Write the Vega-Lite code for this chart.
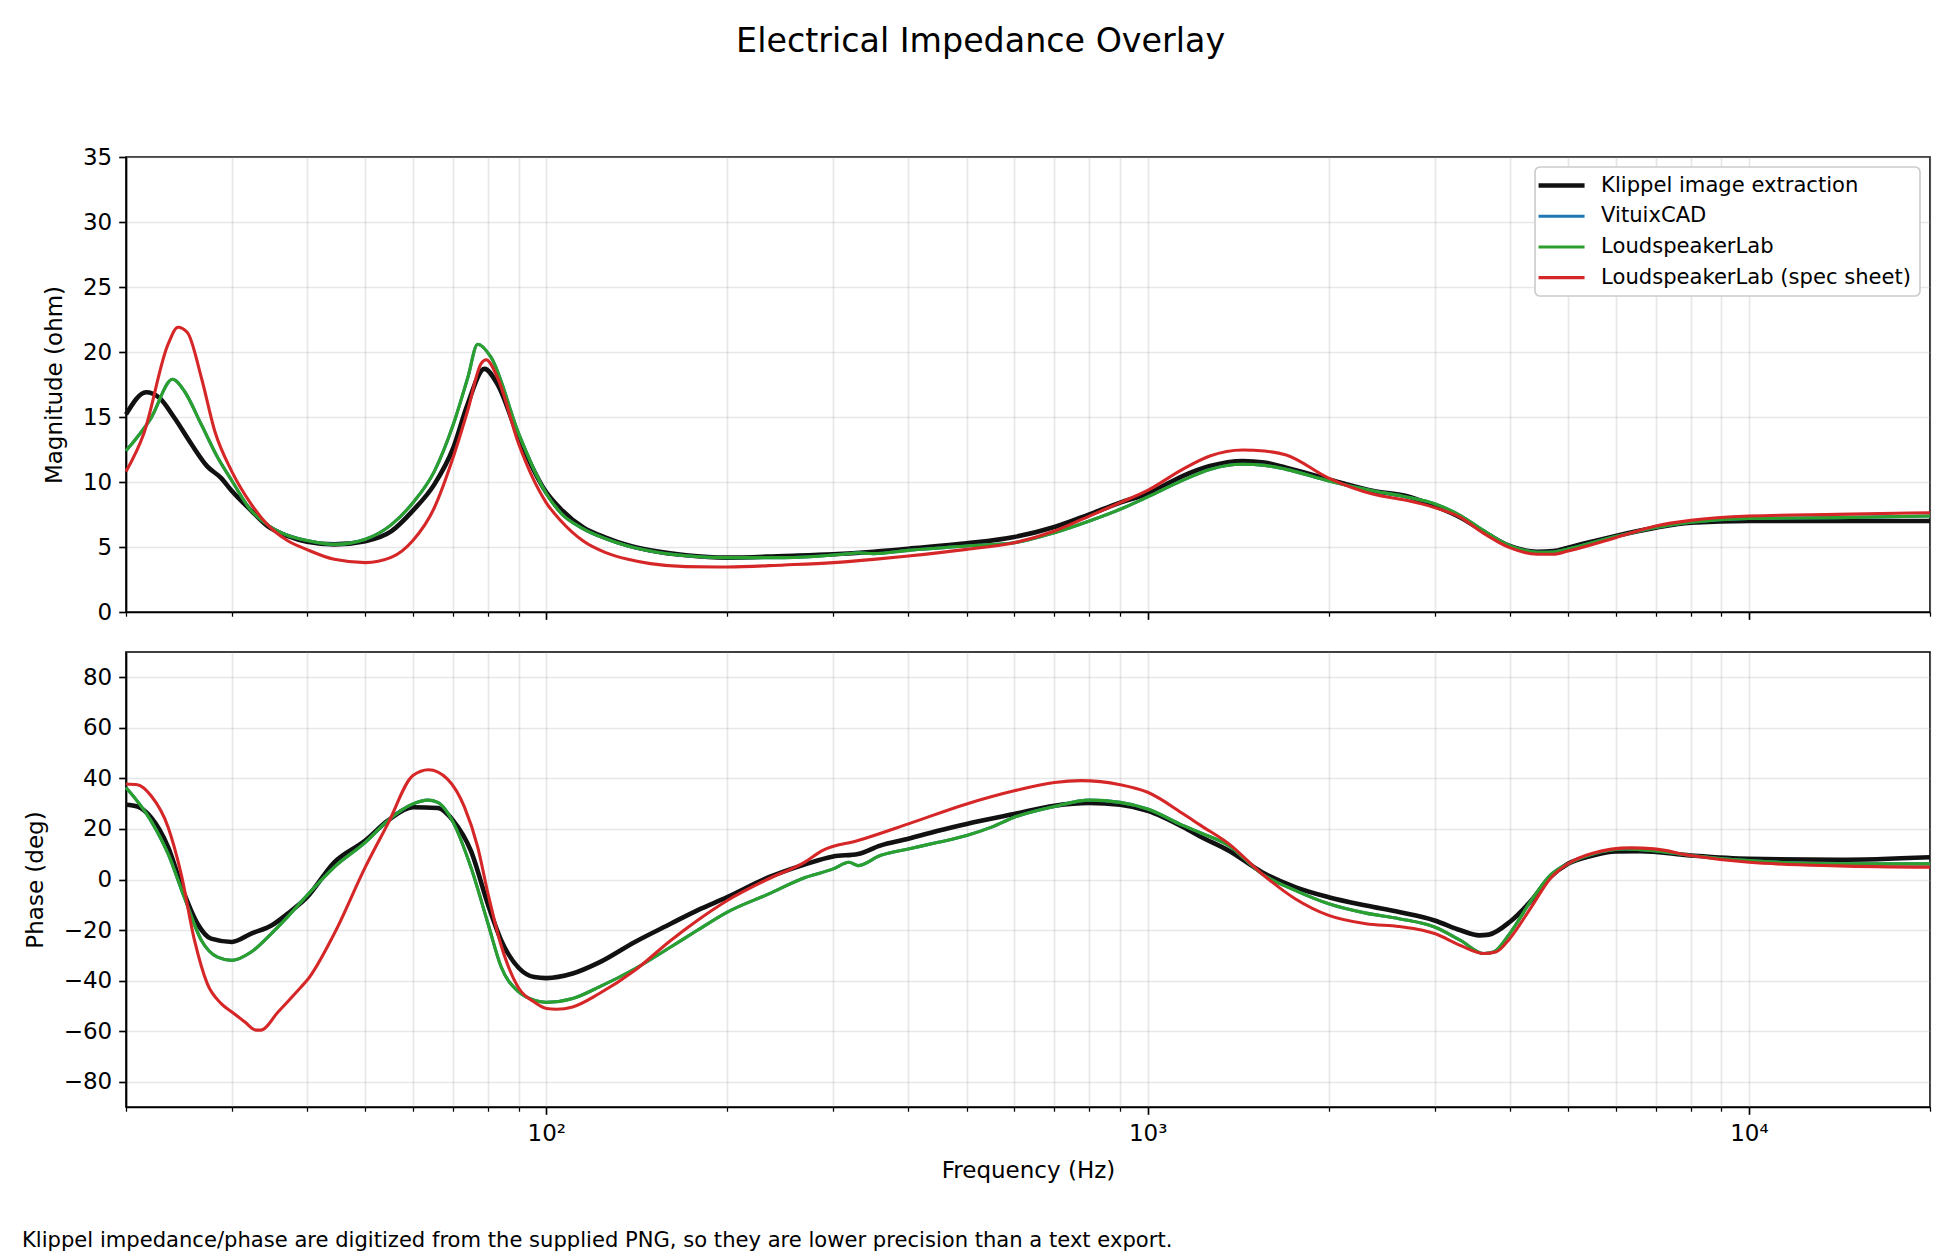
{
  "$schema": "https://vega.github.io/schema/vega-lite/v6.json",
  "background": "white",
  "autosize": {"type": "pad"},
  "padding": {"left": 21, "top": 24, "right": 26, "bottom": 4},
  "title": {
    "text": "Electrical Impedance Overlay",
    "font": "DejaVu Sans",
    "fontSize": 33.3,
    "fontWeight": "normal",
    "color": "black",
    "anchor": "middle",
    "baseline": "alphabetic",
    "offset": 60
  },
  "config": {
    "font": "DejaVu Sans",
    "view": {"stroke": "black", "strokeWidth": 1.67},
    "axis": {
      "domainColor": "black",
      "domainWidth": 1.67,
      "tickColor": "black",
      "tickWidth": 1.67,
      "tickSize": 7.3,
      "labelFont": "DejaVu Sans",
      "labelFontSize": 23,
      "labelColor": "black",
      "labelPadding": 7,
      "titleFont": "DejaVu Sans",
      "titleFontSize": 23,
      "titleFontWeight": "normal",
      "titleColor": "black",
      "gridColor": "#b0b0b0",
      "gridOpacity": 0.3,
      "gridWidth": 1.67
    },
    "line": {"interpolate": "monotone", "clip": true}
  },
  "datasets": {
    "mag": [
      {"f": 20, "mag": 15.2, "src": "Klippel image extraction"},
      {"f": 21.6, "mag": 16.9, "src": "Klippel image extraction"},
      {"f": 22.7, "mag": 16.5, "src": "Klippel image extraction"},
      {"f": 24.1, "mag": 14.9, "src": "Klippel image extraction"},
      {"f": 25.7, "mag": 12.9, "src": "Klippel image extraction"},
      {"f": 27.3, "mag": 11.2, "src": "Klippel image extraction"},
      {"f": 28.8, "mag": 10.3, "src": "Klippel image extraction"},
      {"f": 30, "mag": 9.3, "src": "Klippel image extraction"},
      {"f": 32.3, "mag": 7.8, "src": "Klippel image extraction"},
      {"f": 34.4, "mag": 6.6, "src": "Klippel image extraction"},
      {"f": 37.1, "mag": 5.85, "src": "Klippel image extraction"},
      {"f": 40, "mag": 5.4, "src": "Klippel image extraction"},
      {"f": 44.4, "mag": 5.2, "src": "Klippel image extraction"},
      {"f": 50, "mag": 5.45, "src": "Klippel image extraction"},
      {"f": 55.2, "mag": 6.2, "src": "Klippel image extraction"},
      {"f": 60, "mag": 7.8, "src": "Klippel image extraction"},
      {"f": 65.1, "mag": 9.8, "src": "Klippel image extraction"},
      {"f": 70, "mag": 12.6, "src": "Klippel image extraction"},
      {"f": 74, "mag": 16.0, "src": "Klippel image extraction"},
      {"f": 78.9, "mag": 18.7, "src": "Klippel image extraction"},
      {"f": 83, "mag": 17.5, "src": "Klippel image extraction"},
      {"f": 90, "mag": 13.4, "src": "Klippel image extraction"},
      {"f": 100, "mag": 9.2, "src": "Klippel image extraction"},
      {"f": 105.8, "mag": 7.9, "src": "Klippel image extraction"},
      {"f": 115.2, "mag": 6.5, "src": "Klippel image extraction"},
      {"f": 125.5, "mag": 5.72, "src": "Klippel image extraction"},
      {"f": 136.7, "mag": 5.13, "src": "Klippel image extraction"},
      {"f": 148.9, "mag": 4.74, "src": "Klippel image extraction"},
      {"f": 170.8, "mag": 4.36, "src": "Klippel image extraction"},
      {"f": 200, "mag": 4.18, "src": "Klippel image extraction"},
      {"f": 248.7, "mag": 4.31, "src": "Klippel image extraction"},
      {"f": 300, "mag": 4.44, "src": "Klippel image extraction"},
      {"f": 350, "mag": 4.64, "src": "Klippel image extraction"},
      {"f": 400, "mag": 4.87, "src": "Klippel image extraction"},
      {"f": 500, "mag": 5.28, "src": "Klippel image extraction"},
      {"f": 600, "mag": 5.77, "src": "Klippel image extraction"},
      {"f": 700, "mag": 6.54, "src": "Klippel image extraction"},
      {"f": 800, "mag": 7.51, "src": "Klippel image extraction"},
      {"f": 900, "mag": 8.41, "src": "Klippel image extraction"},
      {"f": 1000, "mag": 9.1, "src": "Klippel image extraction"},
      {"f": 1143, "mag": 10.46, "src": "Klippel image extraction"},
      {"f": 1269, "mag": 11.23, "src": "Klippel image extraction"},
      {"f": 1439, "mag": 11.62, "src": "Klippel image extraction"},
      {"f": 1564, "mag": 11.49, "src": "Klippel image extraction"},
      {"f": 1700, "mag": 11.1, "src": "Klippel image extraction"},
      {"f": 2000, "mag": 10.2, "src": "Klippel image extraction"},
      {"f": 2376, "mag": 9.31, "src": "Klippel image extraction"},
      {"f": 2692, "mag": 8.92, "src": "Klippel image extraction"},
      {"f": 3000, "mag": 8.15, "src": "Klippel image extraction"},
      {"f": 3318, "mag": 7.26, "src": "Klippel image extraction"},
      {"f": 3607, "mag": 6.23, "src": "Klippel image extraction"},
      {"f": 4000, "mag": 5.08, "src": "Klippel image extraction"},
      {"f": 4445, "mag": 4.64, "src": "Klippel image extraction"},
      {"f": 4732, "mag": 4.69, "src": "Klippel image extraction"},
      {"f": 5000, "mag": 4.95, "src": "Klippel image extraction"},
      {"f": 6000, "mag": 5.85, "src": "Klippel image extraction"},
      {"f": 7000, "mag": 6.49, "src": "Klippel image extraction"},
      {"f": 8000, "mag": 6.87, "src": "Klippel image extraction"},
      {"f": 10000, "mag": 7.0, "src": "Klippel image extraction"},
      {"f": 14030, "mag": 7.0, "src": "Klippel image extraction"},
      {"f": 20000, "mag": 7.0, "src": "Klippel image extraction"},

      {"f": 20, "mag": 12.4, "src": "VituixCAD"},
      {"f": 22, "mag": 14.9, "src": "VituixCAD"},
      {"f": 23.9, "mag": 17.9, "src": "VituixCAD"},
      {"f": 25, "mag": 17.0, "src": "VituixCAD"},
      {"f": 26.7, "mag": 14.4, "src": "VituixCAD"},
      {"f": 28.4, "mag": 11.9, "src": "VituixCAD"},
      {"f": 30, "mag": 10.1, "src": "VituixCAD"},
      {"f": 32.3, "mag": 7.8, "src": "VituixCAD"},
      {"f": 34.4, "mag": 6.7, "src": "VituixCAD"},
      {"f": 37.1, "mag": 5.9, "src": "VituixCAD"},
      {"f": 40, "mag": 5.5, "src": "VituixCAD"},
      {"f": 44.4, "mag": 5.2, "src": "VituixCAD"},
      {"f": 50, "mag": 5.6, "src": "VituixCAD"},
      {"f": 55.2, "mag": 6.7, "src": "VituixCAD"},
      {"f": 60, "mag": 8.4, "src": "VituixCAD"},
      {"f": 65.1, "mag": 10.8, "src": "VituixCAD"},
      {"f": 70, "mag": 14.4, "src": "VituixCAD"},
      {"f": 74, "mag": 18.0, "src": "VituixCAD"},
      {"f": 76.9, "mag": 20.6, "src": "VituixCAD"},
      {"f": 80.9, "mag": 19.6, "src": "VituixCAD"},
      {"f": 90, "mag": 13.7, "src": "VituixCAD"},
      {"f": 100, "mag": 9.1, "src": "VituixCAD"},
      {"f": 105.8, "mag": 7.6, "src": "VituixCAD"},
      {"f": 115.2, "mag": 6.4, "src": "VituixCAD"},
      {"f": 125.5, "mag": 5.64, "src": "VituixCAD"},
      {"f": 136.7, "mag": 5.08, "src": "VituixCAD"},
      {"f": 148.9, "mag": 4.7, "src": "VituixCAD"},
      {"f": 170.8, "mag": 4.33, "src": "VituixCAD"},
      {"f": 200, "mag": 4.18, "src": "VituixCAD"},
      {"f": 248.7, "mag": 4.18, "src": "VituixCAD"},
      {"f": 300, "mag": 4.38, "src": "VituixCAD"},
      {"f": 320, "mag": 4.5, "src": "VituixCAD"},
      {"f": 330, "mag": 4.56, "src": "VituixCAD"},
      {"f": 350, "mag": 4.49, "src": "VituixCAD"},
      {"f": 400, "mag": 4.74, "src": "VituixCAD"},
      {"f": 500, "mag": 5.08, "src": "VituixCAD"},
      {"f": 600, "mag": 5.33, "src": "VituixCAD"},
      {"f": 700, "mag": 6.1, "src": "VituixCAD"},
      {"f": 800, "mag": 7.0, "src": "VituixCAD"},
      {"f": 900, "mag": 7.9, "src": "VituixCAD"},
      {"f": 1000, "mag": 8.85, "src": "VituixCAD"},
      {"f": 1143, "mag": 10.13, "src": "VituixCAD"},
      {"f": 1269, "mag": 10.97, "src": "VituixCAD"},
      {"f": 1439, "mag": 11.36, "src": "VituixCAD"},
      {"f": 1564, "mag": 11.28, "src": "VituixCAD"},
      {"f": 1700, "mag": 10.97, "src": "VituixCAD"},
      {"f": 2000, "mag": 10.08, "src": "VituixCAD"},
      {"f": 2376, "mag": 9.31, "src": "VituixCAD"},
      {"f": 2692, "mag": 8.85, "src": "VituixCAD"},
      {"f": 3000, "mag": 8.33, "src": "VituixCAD"},
      {"f": 3318, "mag": 7.4, "src": "VituixCAD"},
      {"f": 3607, "mag": 6.3, "src": "VituixCAD"},
      {"f": 4000, "mag": 5.1, "src": "VituixCAD"},
      {"f": 4445, "mag": 4.6, "src": "VituixCAD"},
      {"f": 4732, "mag": 4.62, "src": "VituixCAD"},
      {"f": 5000, "mag": 4.85, "src": "VituixCAD"},
      {"f": 6000, "mag": 5.8, "src": "VituixCAD"},
      {"f": 7000, "mag": 6.5, "src": "VituixCAD"},
      {"f": 8000, "mag": 6.9, "src": "VituixCAD"},
      {"f": 10000, "mag": 7.2, "src": "VituixCAD"},
      {"f": 14030, "mag": 7.26, "src": "VituixCAD"},
      {"f": 20000, "mag": 7.38, "src": "VituixCAD"},

      {"f": 20, "mag": 12.4, "src": "LoudspeakerLab"},
      {"f": 22, "mag": 14.9, "src": "LoudspeakerLab"},
      {"f": 23.9, "mag": 17.9, "src": "LoudspeakerLab"},
      {"f": 25, "mag": 17.0, "src": "LoudspeakerLab"},
      {"f": 26.7, "mag": 14.4, "src": "LoudspeakerLab"},
      {"f": 28.4, "mag": 11.9, "src": "LoudspeakerLab"},
      {"f": 30, "mag": 10.1, "src": "LoudspeakerLab"},
      {"f": 32.3, "mag": 7.8, "src": "LoudspeakerLab"},
      {"f": 34.4, "mag": 6.7, "src": "LoudspeakerLab"},
      {"f": 37.1, "mag": 5.9, "src": "LoudspeakerLab"},
      {"f": 40, "mag": 5.5, "src": "LoudspeakerLab"},
      {"f": 44.4, "mag": 5.2, "src": "LoudspeakerLab"},
      {"f": 50, "mag": 5.6, "src": "LoudspeakerLab"},
      {"f": 55.2, "mag": 6.7, "src": "LoudspeakerLab"},
      {"f": 60, "mag": 8.4, "src": "LoudspeakerLab"},
      {"f": 65.1, "mag": 10.8, "src": "LoudspeakerLab"},
      {"f": 70, "mag": 14.4, "src": "LoudspeakerLab"},
      {"f": 74, "mag": 18.0, "src": "LoudspeakerLab"},
      {"f": 76.9, "mag": 20.6, "src": "LoudspeakerLab"},
      {"f": 80.9, "mag": 19.6, "src": "LoudspeakerLab"},
      {"f": 90, "mag": 13.7, "src": "LoudspeakerLab"},
      {"f": 100, "mag": 9.1, "src": "LoudspeakerLab"},
      {"f": 105.8, "mag": 7.6, "src": "LoudspeakerLab"},
      {"f": 115.2, "mag": 6.4, "src": "LoudspeakerLab"},
      {"f": 125.5, "mag": 5.64, "src": "LoudspeakerLab"},
      {"f": 136.7, "mag": 5.08, "src": "LoudspeakerLab"},
      {"f": 148.9, "mag": 4.7, "src": "LoudspeakerLab"},
      {"f": 170.8, "mag": 4.33, "src": "LoudspeakerLab"},
      {"f": 200, "mag": 4.18, "src": "LoudspeakerLab"},
      {"f": 248.7, "mag": 4.18, "src": "LoudspeakerLab"},
      {"f": 300, "mag": 4.38, "src": "LoudspeakerLab"},
      {"f": 320, "mag": 4.5, "src": "LoudspeakerLab"},
      {"f": 330, "mag": 4.56, "src": "LoudspeakerLab"},
      {"f": 350, "mag": 4.49, "src": "LoudspeakerLab"},
      {"f": 400, "mag": 4.74, "src": "LoudspeakerLab"},
      {"f": 500, "mag": 5.08, "src": "LoudspeakerLab"},
      {"f": 600, "mag": 5.33, "src": "LoudspeakerLab"},
      {"f": 700, "mag": 6.1, "src": "LoudspeakerLab"},
      {"f": 800, "mag": 7.0, "src": "LoudspeakerLab"},
      {"f": 900, "mag": 7.9, "src": "LoudspeakerLab"},
      {"f": 1000, "mag": 8.85, "src": "LoudspeakerLab"},
      {"f": 1143, "mag": 10.13, "src": "LoudspeakerLab"},
      {"f": 1269, "mag": 10.97, "src": "LoudspeakerLab"},
      {"f": 1439, "mag": 11.36, "src": "LoudspeakerLab"},
      {"f": 1564, "mag": 11.28, "src": "LoudspeakerLab"},
      {"f": 1700, "mag": 10.97, "src": "LoudspeakerLab"},
      {"f": 2000, "mag": 10.08, "src": "LoudspeakerLab"},
      {"f": 2376, "mag": 9.31, "src": "LoudspeakerLab"},
      {"f": 2692, "mag": 8.85, "src": "LoudspeakerLab"},
      {"f": 3000, "mag": 8.33, "src": "LoudspeakerLab"},
      {"f": 3318, "mag": 7.4, "src": "LoudspeakerLab"},
      {"f": 3607, "mag": 6.3, "src": "LoudspeakerLab"},
      {"f": 4000, "mag": 5.1, "src": "LoudspeakerLab"},
      {"f": 4445, "mag": 4.6, "src": "LoudspeakerLab"},
      {"f": 4732, "mag": 4.62, "src": "LoudspeakerLab"},
      {"f": 5000, "mag": 4.85, "src": "LoudspeakerLab"},
      {"f": 6000, "mag": 5.8, "src": "LoudspeakerLab"},
      {"f": 7000, "mag": 6.5, "src": "LoudspeakerLab"},
      {"f": 8000, "mag": 6.9, "src": "LoudspeakerLab"},
      {"f": 10000, "mag": 7.2, "src": "LoudspeakerLab"},
      {"f": 14030, "mag": 7.26, "src": "LoudspeakerLab"},
      {"f": 20000, "mag": 7.38, "src": "LoudspeakerLab"},

      {"f": 20, "mag": 10.8, "src": "LoudspeakerLab (spec sheet)"},
      {"f": 21.4, "mag": 13.7, "src": "LoudspeakerLab (spec sheet)"},
      {"f": 23.5, "mag": 20.6, "src": "LoudspeakerLab (spec sheet)"},
      {"f": 24.4, "mag": 21.9, "src": "LoudspeakerLab (spec sheet)"},
      {"f": 25.3, "mag": 21.5, "src": "LoudspeakerLab (spec sheet)"},
      {"f": 26.7, "mag": 18.0, "src": "LoudspeakerLab (spec sheet)"},
      {"f": 28.1, "mag": 13.9, "src": "LoudspeakerLab (spec sheet)"},
      {"f": 30, "mag": 10.8, "src": "LoudspeakerLab (spec sheet)"},
      {"f": 32.3, "mag": 8.3, "src": "LoudspeakerLab (spec sheet)"},
      {"f": 34.4, "mag": 6.7, "src": "LoudspeakerLab (spec sheet)"},
      {"f": 37.1, "mag": 5.5, "src": "LoudspeakerLab (spec sheet)"},
      {"f": 40, "mag": 4.8, "src": "LoudspeakerLab (spec sheet)"},
      {"f": 44.4, "mag": 4.05, "src": "LoudspeakerLab (spec sheet)"},
      {"f": 50, "mag": 3.8, "src": "LoudspeakerLab (spec sheet)"},
      {"f": 55.2, "mag": 4.2, "src": "LoudspeakerLab (spec sheet)"},
      {"f": 60, "mag": 5.5, "src": "LoudspeakerLab (spec sheet)"},
      {"f": 65.1, "mag": 8.0, "src": "LoudspeakerLab (spec sheet)"},
      {"f": 70, "mag": 11.9, "src": "LoudspeakerLab (spec sheet)"},
      {"f": 74, "mag": 15.5, "src": "LoudspeakerLab (spec sheet)"},
      {"f": 77.9, "mag": 19.1, "src": "LoudspeakerLab (spec sheet)"},
      {"f": 79.4, "mag": 19.4, "src": "LoudspeakerLab (spec sheet)"},
      {"f": 83, "mag": 18.0, "src": "LoudspeakerLab (spec sheet)"},
      {"f": 90, "mag": 12.9, "src": "LoudspeakerLab (spec sheet)"},
      {"f": 100, "mag": 8.4, "src": "LoudspeakerLab (spec sheet)"},
      {"f": 105.8, "mag": 7.0, "src": "LoudspeakerLab (spec sheet)"},
      {"f": 115.2, "mag": 5.46, "src": "LoudspeakerLab (spec sheet)"},
      {"f": 125.5, "mag": 4.57, "src": "LoudspeakerLab (spec sheet)"},
      {"f": 136.7, "mag": 4.05, "src": "LoudspeakerLab (spec sheet)"},
      {"f": 148.9, "mag": 3.72, "src": "LoudspeakerLab (spec sheet)"},
      {"f": 170.8, "mag": 3.49, "src": "LoudspeakerLab (spec sheet)"},
      {"f": 200, "mag": 3.46, "src": "LoudspeakerLab (spec sheet)"},
      {"f": 248.7, "mag": 3.62, "src": "LoudspeakerLab (spec sheet)"},
      {"f": 300, "mag": 3.8, "src": "LoudspeakerLab (spec sheet)"},
      {"f": 350, "mag": 4.05, "src": "LoudspeakerLab (spec sheet)"},
      {"f": 400, "mag": 4.31, "src": "LoudspeakerLab (spec sheet)"},
      {"f": 500, "mag": 4.82, "src": "LoudspeakerLab (spec sheet)"},
      {"f": 600, "mag": 5.33, "src": "LoudspeakerLab (spec sheet)"},
      {"f": 700, "mag": 6.23, "src": "LoudspeakerLab (spec sheet)"},
      {"f": 800, "mag": 7.38, "src": "LoudspeakerLab (spec sheet)"},
      {"f": 900, "mag": 8.41, "src": "LoudspeakerLab (spec sheet)"},
      {"f": 1000, "mag": 9.35, "src": "LoudspeakerLab (spec sheet)"},
      {"f": 1143, "mag": 10.97, "src": "LoudspeakerLab (spec sheet)"},
      {"f": 1269, "mag": 12.0, "src": "LoudspeakerLab (spec sheet)"},
      {"f": 1439, "mag": 12.46, "src": "LoudspeakerLab (spec sheet)"},
      {"f": 1564, "mag": 12.38, "src": "LoudspeakerLab (spec sheet)"},
      {"f": 1700, "mag": 12.08, "src": "LoudspeakerLab (spec sheet)"},
      {"f": 2000, "mag": 10.3, "src": "LoudspeakerLab (spec sheet)"},
      {"f": 2376, "mag": 9.05, "src": "LoudspeakerLab (spec sheet)"},
      {"f": 2692, "mag": 8.59, "src": "LoudspeakerLab (spec sheet)"},
      {"f": 3000, "mag": 8.03, "src": "LoudspeakerLab (spec sheet)"},
      {"f": 3318, "mag": 7.26, "src": "LoudspeakerLab (spec sheet)"},
      {"f": 3607, "mag": 6.1, "src": "LoudspeakerLab (spec sheet)"},
      {"f": 4000, "mag": 4.95, "src": "LoudspeakerLab (spec sheet)"},
      {"f": 4445, "mag": 4.44, "src": "LoudspeakerLab (spec sheet)"},
      {"f": 4732, "mag": 4.44, "src": "LoudspeakerLab (spec sheet)"},
      {"f": 5000, "mag": 4.69, "src": "LoudspeakerLab (spec sheet)"},
      {"f": 6000, "mag": 5.72, "src": "LoudspeakerLab (spec sheet)"},
      {"f": 7000, "mag": 6.62, "src": "LoudspeakerLab (spec sheet)"},
      {"f": 8000, "mag": 7.05, "src": "LoudspeakerLab (spec sheet)"},
      {"f": 10000, "mag": 7.38, "src": "LoudspeakerLab (spec sheet)"},
      {"f": 14030, "mag": 7.51, "src": "LoudspeakerLab (spec sheet)"},
      {"f": 20000, "mag": 7.64, "src": "LoudspeakerLab (spec sheet)"}
    ],
    "phase": [
      {"f": 20, "ph": 29.6, "src": "Klippel image extraction"},
      {"f": 20.9, "ph": 28.9, "src": "Klippel image extraction"},
      {"f": 22, "ph": 24.6, "src": "Klippel image extraction"},
      {"f": 23.5, "ph": 12.8, "src": "Klippel image extraction"},
      {"f": 25, "ph": -5.7, "src": "Klippel image extraction"},
      {"f": 26.3, "ph": -17.5, "src": "Klippel image extraction"},
      {"f": 27.7, "ph": -23.4, "src": "Klippel image extraction"},
      {"f": 30, "ph": -24.7, "src": "Klippel image extraction"},
      {"f": 32.3, "ph": -21.4, "src": "Klippel image extraction"},
      {"f": 34.9, "ph": -18.2, "src": "Klippel image extraction"},
      {"f": 37.1, "ph": -13.6, "src": "Klippel image extraction"},
      {"f": 40, "ph": -7.0, "src": "Klippel image extraction"},
      {"f": 44.4, "ph": 6.8, "src": "Klippel image extraction"},
      {"f": 50, "ph": 15.4, "src": "Klippel image extraction"},
      {"f": 54.5, "ph": 23.3, "src": "Klippel image extraction"},
      {"f": 60, "ph": 28.6, "src": "Klippel image extraction"},
      {"f": 66, "ph": 28.3, "src": "Klippel image extraction"},
      {"f": 70, "ph": 23.3, "src": "Klippel image extraction"},
      {"f": 74.9, "ph": 11.4, "src": "Klippel image extraction"},
      {"f": 80, "ph": -10, "src": "Klippel image extraction"},
      {"f": 84.1, "ph": -24, "src": "Klippel image extraction"},
      {"f": 90, "ph": -35, "src": "Klippel image extraction"},
      {"f": 95.5, "ph": -38.6, "src": "Klippel image extraction"},
      {"f": 100, "ph": -39, "src": "Klippel image extraction"},
      {"f": 110.6, "ph": -37.2, "src": "Klippel image extraction"},
      {"f": 122.5, "ph": -32.8, "src": "Klippel image extraction"},
      {"f": 140.4, "ph": -24.7, "src": "Klippel image extraction"},
      {"f": 161, "ph": -17.5, "src": "Klippel image extraction"},
      {"f": 178.3, "ph": -12.2, "src": "Klippel image extraction"},
      {"f": 200, "ph": -7.0, "src": "Klippel image extraction"},
      {"f": 234.4, "ph": 0.9, "src": "Klippel image extraction"},
      {"f": 268.7, "ph": 5.9, "src": "Klippel image extraction"},
      {"f": 300, "ph": 9.1, "src": "Klippel image extraction"},
      {"f": 329.8, "ph": 10.1, "src": "Klippel image extraction"},
      {"f": 359.1, "ph": 13.4, "src": "Klippel image extraction"},
      {"f": 400, "ph": 16.1, "src": "Klippel image extraction"},
      {"f": 448.3, "ph": 19.3, "src": "Klippel image extraction"},
      {"f": 500, "ph": 22.0, "src": "Klippel image extraction"},
      {"f": 600, "ph": 25.9, "src": "Klippel image extraction"},
      {"f": 700, "ph": 29.2, "src": "Klippel image extraction"},
      {"f": 800, "ph": 30.3, "src": "Klippel image extraction"},
      {"f": 900, "ph": 29.6, "src": "Klippel image extraction"},
      {"f": 1000, "ph": 27.2, "src": "Klippel image extraction"},
      {"f": 1147, "ph": 20.7, "src": "Klippel image extraction"},
      {"f": 1223, "ph": 17.0, "src": "Klippel image extraction"},
      {"f": 1365, "ph": 11.4, "src": "Klippel image extraction"},
      {"f": 1550, "ph": 2.9, "src": "Klippel image extraction"},
      {"f": 1759, "ph": -3.0, "src": "Klippel image extraction"},
      {"f": 2000, "ph": -7.0, "src": "Klippel image extraction"},
      {"f": 2307, "ph": -10.3, "src": "Klippel image extraction"},
      {"f": 2619, "ph": -12.9, "src": "Klippel image extraction"},
      {"f": 3000, "ph": -16.2, "src": "Klippel image extraction"},
      {"f": 3314, "ph": -20.1, "src": "Klippel image extraction"},
      {"f": 3561, "ph": -22.1, "src": "Klippel image extraction"},
      {"f": 3693, "ph": -21.8, "src": "Klippel image extraction"},
      {"f": 4000, "ph": -16.8, "src": "Klippel image extraction"},
      {"f": 4345, "ph": -8.3, "src": "Klippel image extraction"},
      {"f": 4670, "ph": 0.9, "src": "Klippel image extraction"},
      {"f": 5000, "ph": 6.2, "src": "Klippel image extraction"},
      {"f": 5497, "ph": 9.5, "src": "Klippel image extraction"},
      {"f": 6000, "ph": 11.1, "src": "Klippel image extraction"},
      {"f": 6586, "ph": 11.2, "src": "Klippel image extraction"},
      {"f": 8000, "ph": 9.5, "src": "Klippel image extraction"},
      {"f": 10000, "ph": 8.2, "src": "Klippel image extraction"},
      {"f": 14077, "ph": 7.8, "src": "Klippel image extraction"},
      {"f": 20000, "ph": 8.8, "src": "Klippel image extraction"},

      {"f": 20, "ph": 36.4, "src": "VituixCAD"},
      {"f": 22, "ph": 23.3, "src": "VituixCAD"},
      {"f": 23.5, "ph": 10.1, "src": "VituixCAD"},
      {"f": 25, "ph": -7.0, "src": "VituixCAD"},
      {"f": 26.7, "ph": -24.1, "src": "VituixCAD"},
      {"f": 28.4, "ph": -30.7, "src": "VituixCAD"},
      {"f": 30, "ph": -32.0, "src": "VituixCAD"},
      {"f": 32.3, "ph": -28.7, "src": "VituixCAD"},
      {"f": 34.9, "ph": -21.4, "src": "VituixCAD"},
      {"f": 37.1, "ph": -14.9, "src": "VituixCAD"},
      {"f": 40, "ph": -6.3, "src": "VituixCAD"},
      {"f": 44.4, "ph": 4.9, "src": "VituixCAD"},
      {"f": 50, "ph": 14.7, "src": "VituixCAD"},
      {"f": 54.5, "ph": 23.3, "src": "VituixCAD"},
      {"f": 60, "ph": 29.9, "src": "VituixCAD"},
      {"f": 63.5, "ph": 31.4, "src": "VituixCAD"},
      {"f": 66, "ph": 30.5, "src": "VituixCAD"},
      {"f": 70, "ph": 22.6, "src": "VituixCAD"},
      {"f": 74.9, "ph": 4.9, "src": "VituixCAD"},
      {"f": 80, "ph": -17.5, "src": "VituixCAD"},
      {"f": 84.1, "ph": -34.5, "src": "VituixCAD"},
      {"f": 90, "ph": -44.5, "src": "VituixCAD"},
      {"f": 95.5, "ph": -47.8, "src": "VituixCAD"},
      {"f": 100, "ph": -48.6, "src": "VituixCAD"},
      {"f": 110.6, "ph": -47.1, "src": "VituixCAD"},
      {"f": 122.5, "ph": -42.5, "src": "VituixCAD"},
      {"f": 140.4, "ph": -35.3, "src": "VituixCAD"},
      {"f": 161, "ph": -26.7, "src": "VituixCAD"},
      {"f": 178.3, "ph": -20.1, "src": "VituixCAD"},
      {"f": 200, "ph": -12.9, "src": "VituixCAD"},
      {"f": 234.4, "ph": -5.7, "src": "VituixCAD"},
      {"f": 268.7, "ph": 0.7, "src": "VituixCAD"},
      {"f": 300, "ph": 4.2, "src": "VituixCAD"},
      {"f": 318.6, "ph": 6.8, "src": "VituixCAD"},
      {"f": 329.8, "ph": 5.5, "src": "VituixCAD"},
      {"f": 359.1, "ph": 9.5, "src": "VituixCAD"},
      {"f": 400, "ph": 12.1, "src": "VituixCAD"},
      {"f": 448.3, "ph": 14.7, "src": "VituixCAD"},
      {"f": 500, "ph": 17.4, "src": "VituixCAD"},
      {"f": 550, "ph": 20.7, "src": "VituixCAD"},
      {"f": 600, "ph": 24.6, "src": "VituixCAD"},
      {"f": 700, "ph": 28.9, "src": "VituixCAD"},
      {"f": 800, "ph": 31.4, "src": "VituixCAD"},
      {"f": 900, "ph": 30.5, "src": "VituixCAD"},
      {"f": 1000, "ph": 27.9, "src": "VituixCAD"},
      {"f": 1147, "ph": 21.3, "src": "VituixCAD"},
      {"f": 1223, "ph": 18.5, "src": "VituixCAD"},
      {"f": 1365, "ph": 13.4, "src": "VituixCAD"},
      {"f": 1550, "ph": 2.2, "src": "VituixCAD"},
      {"f": 1759, "ph": -4.3, "src": "VituixCAD"},
      {"f": 2000, "ph": -9.6, "src": "VituixCAD"},
      {"f": 2307, "ph": -13.3, "src": "VituixCAD"},
      {"f": 2619, "ph": -15.5, "src": "VituixCAD"},
      {"f": 3000, "ph": -18.8, "src": "VituixCAD"},
      {"f": 3314, "ph": -24.1, "src": "VituixCAD"},
      {"f": 3626, "ph": -29.3, "src": "VituixCAD"},
      {"f": 3760, "ph": -28.7, "src": "VituixCAD"},
      {"f": 4000, "ph": -21.4, "src": "VituixCAD"},
      {"f": 4345, "ph": -8.3, "src": "VituixCAD"},
      {"f": 4670, "ph": 1.6, "src": "VituixCAD"},
      {"f": 5000, "ph": 6.2, "src": "VituixCAD"},
      {"f": 5497, "ph": 10.1, "src": "VituixCAD"},
      {"f": 6237, "ph": 12.1, "src": "VituixCAD"},
      {"f": 6953, "ph": 11.4, "src": "VituixCAD"},
      {"f": 8000, "ph": 9.5, "src": "VituixCAD"},
      {"f": 10000, "ph": 7.5, "src": "VituixCAD"},
      {"f": 14077, "ph": 6.2, "src": "VituixCAD"},
      {"f": 20000, "ph": 6.2, "src": "VituixCAD"},

      {"f": 20, "ph": 36.4, "src": "LoudspeakerLab"},
      {"f": 22, "ph": 23.3, "src": "LoudspeakerLab"},
      {"f": 23.5, "ph": 10.1, "src": "LoudspeakerLab"},
      {"f": 25, "ph": -7.0, "src": "LoudspeakerLab"},
      {"f": 26.7, "ph": -24.1, "src": "LoudspeakerLab"},
      {"f": 28.4, "ph": -30.7, "src": "LoudspeakerLab"},
      {"f": 30, "ph": -32.0, "src": "LoudspeakerLab"},
      {"f": 32.3, "ph": -28.7, "src": "LoudspeakerLab"},
      {"f": 34.9, "ph": -21.4, "src": "LoudspeakerLab"},
      {"f": 37.1, "ph": -14.9, "src": "LoudspeakerLab"},
      {"f": 40, "ph": -6.3, "src": "LoudspeakerLab"},
      {"f": 44.4, "ph": 4.9, "src": "LoudspeakerLab"},
      {"f": 50, "ph": 14.7, "src": "LoudspeakerLab"},
      {"f": 54.5, "ph": 23.3, "src": "LoudspeakerLab"},
      {"f": 60, "ph": 29.9, "src": "LoudspeakerLab"},
      {"f": 63.5, "ph": 31.4, "src": "LoudspeakerLab"},
      {"f": 66, "ph": 30.5, "src": "LoudspeakerLab"},
      {"f": 70, "ph": 22.6, "src": "LoudspeakerLab"},
      {"f": 74.9, "ph": 4.9, "src": "LoudspeakerLab"},
      {"f": 80, "ph": -17.5, "src": "LoudspeakerLab"},
      {"f": 84.1, "ph": -34.5, "src": "LoudspeakerLab"},
      {"f": 90, "ph": -44.5, "src": "LoudspeakerLab"},
      {"f": 95.5, "ph": -47.8, "src": "LoudspeakerLab"},
      {"f": 100, "ph": -48.6, "src": "LoudspeakerLab"},
      {"f": 110.6, "ph": -47.1, "src": "LoudspeakerLab"},
      {"f": 122.5, "ph": -42.5, "src": "LoudspeakerLab"},
      {"f": 140.4, "ph": -35.3, "src": "LoudspeakerLab"},
      {"f": 161, "ph": -26.7, "src": "LoudspeakerLab"},
      {"f": 178.3, "ph": -20.1, "src": "LoudspeakerLab"},
      {"f": 200, "ph": -12.9, "src": "LoudspeakerLab"},
      {"f": 234.4, "ph": -5.7, "src": "LoudspeakerLab"},
      {"f": 268.7, "ph": 0.7, "src": "LoudspeakerLab"},
      {"f": 300, "ph": 4.2, "src": "LoudspeakerLab"},
      {"f": 318.6, "ph": 6.8, "src": "LoudspeakerLab"},
      {"f": 329.8, "ph": 5.5, "src": "LoudspeakerLab"},
      {"f": 359.1, "ph": 9.5, "src": "LoudspeakerLab"},
      {"f": 400, "ph": 12.1, "src": "LoudspeakerLab"},
      {"f": 448.3, "ph": 14.7, "src": "LoudspeakerLab"},
      {"f": 500, "ph": 17.4, "src": "LoudspeakerLab"},
      {"f": 550, "ph": 20.7, "src": "LoudspeakerLab"},
      {"f": 600, "ph": 24.6, "src": "LoudspeakerLab"},
      {"f": 700, "ph": 28.9, "src": "LoudspeakerLab"},
      {"f": 800, "ph": 31.4, "src": "LoudspeakerLab"},
      {"f": 900, "ph": 30.5, "src": "LoudspeakerLab"},
      {"f": 1000, "ph": 27.9, "src": "LoudspeakerLab"},
      {"f": 1147, "ph": 21.3, "src": "LoudspeakerLab"},
      {"f": 1223, "ph": 18.5, "src": "LoudspeakerLab"},
      {"f": 1365, "ph": 13.4, "src": "LoudspeakerLab"},
      {"f": 1550, "ph": 2.2, "src": "LoudspeakerLab"},
      {"f": 1759, "ph": -4.3, "src": "LoudspeakerLab"},
      {"f": 2000, "ph": -9.6, "src": "LoudspeakerLab"},
      {"f": 2307, "ph": -13.3, "src": "LoudspeakerLab"},
      {"f": 2619, "ph": -15.5, "src": "LoudspeakerLab"},
      {"f": 3000, "ph": -18.8, "src": "LoudspeakerLab"},
      {"f": 3314, "ph": -24.1, "src": "LoudspeakerLab"},
      {"f": 3626, "ph": -29.3, "src": "LoudspeakerLab"},
      {"f": 3760, "ph": -28.7, "src": "LoudspeakerLab"},
      {"f": 4000, "ph": -21.4, "src": "LoudspeakerLab"},
      {"f": 4345, "ph": -8.3, "src": "LoudspeakerLab"},
      {"f": 4670, "ph": 1.6, "src": "LoudspeakerLab"},
      {"f": 5000, "ph": 6.2, "src": "LoudspeakerLab"},
      {"f": 5497, "ph": 10.1, "src": "LoudspeakerLab"},
      {"f": 6237, "ph": 12.1, "src": "LoudspeakerLab"},
      {"f": 6953, "ph": 11.4, "src": "LoudspeakerLab"},
      {"f": 8000, "ph": 9.5, "src": "LoudspeakerLab"},
      {"f": 10000, "ph": 7.5, "src": "LoudspeakerLab"},
      {"f": 14077, "ph": 6.2, "src": "LoudspeakerLab"},
      {"f": 20000, "ph": 6.2, "src": "LoudspeakerLab"},

      {"f": 20, "ph": 37.8, "src": "LoudspeakerLab (spec sheet)"},
      {"f": 20.9, "ph": 37.5, "src": "LoudspeakerLab (spec sheet)"},
      {"f": 22, "ph": 33.2, "src": "LoudspeakerLab (spec sheet)"},
      {"f": 23.5, "ph": 20.7, "src": "LoudspeakerLab (spec sheet)"},
      {"f": 24.7, "ph": 2.2, "src": "LoudspeakerLab (spec sheet)"},
      {"f": 26, "ph": -24.1, "src": "LoudspeakerLab (spec sheet)"},
      {"f": 27.3, "ph": -41.2, "src": "LoudspeakerLab (spec sheet)"},
      {"f": 28.8, "ph": -49.1, "src": "LoudspeakerLab (spec sheet)"},
      {"f": 30, "ph": -52.4, "src": "LoudspeakerLab (spec sheet)"},
      {"f": 31.5, "ph": -56.3, "src": "LoudspeakerLab (spec sheet)"},
      {"f": 32.9, "ph": -59.6, "src": "LoudspeakerLab (spec sheet)"},
      {"f": 33.5, "ph": -59.6, "src": "LoudspeakerLab (spec sheet)"},
      {"f": 35.8, "ph": -52.4, "src": "LoudspeakerLab (spec sheet)"},
      {"f": 39.1, "ph": -42.5, "src": "LoudspeakerLab (spec sheet)"},
      {"f": 40, "ph": -39.9, "src": "LoudspeakerLab (spec sheet)"},
      {"f": 44.4, "ph": -21.4, "src": "LoudspeakerLab (spec sheet)"},
      {"f": 50, "ph": 4.9, "src": "LoudspeakerLab (spec sheet)"},
      {"f": 54.5, "ph": 22, "src": "LoudspeakerLab (spec sheet)"},
      {"f": 60, "ph": 41.1, "src": "LoudspeakerLab (spec sheet)"},
      {"f": 63.7, "ph": 43.4, "src": "LoudspeakerLab (spec sheet)"},
      {"f": 68.5, "ph": 39.7, "src": "LoudspeakerLab (spec sheet)"},
      {"f": 73.1, "ph": 28.6, "src": "LoudspeakerLab (spec sheet)"},
      {"f": 76.9, "ph": 12.8, "src": "LoudspeakerLab (spec sheet)"},
      {"f": 80, "ph": -5.7, "src": "LoudspeakerLab (spec sheet)"},
      {"f": 84.1, "ph": -26, "src": "LoudspeakerLab (spec sheet)"},
      {"f": 90, "ph": -43, "src": "LoudspeakerLab (spec sheet)"},
      {"f": 95.5, "ph": -48.5, "src": "LoudspeakerLab (spec sheet)"},
      {"f": 100, "ph": -51, "src": "LoudspeakerLab (spec sheet)"},
      {"f": 104, "ph": -51.3, "src": "LoudspeakerLab (spec sheet)"},
      {"f": 110.6, "ph": -50.4, "src": "LoudspeakerLab (spec sheet)"},
      {"f": 122.5, "ph": -45.1, "src": "LoudspeakerLab (spec sheet)"},
      {"f": 140.4, "ph": -35.9, "src": "LoudspeakerLab (spec sheet)"},
      {"f": 161, "ph": -24.1, "src": "LoudspeakerLab (spec sheet)"},
      {"f": 178.3, "ph": -16.2, "src": "LoudspeakerLab (spec sheet)"},
      {"f": 200, "ph": -8.3, "src": "LoudspeakerLab (spec sheet)"},
      {"f": 234.4, "ph": 0.3, "src": "LoudspeakerLab (spec sheet)"},
      {"f": 268.7, "ph": 6.8, "src": "LoudspeakerLab (spec sheet)"},
      {"f": 287.7, "ph": 11.4, "src": "LoudspeakerLab (spec sheet)"},
      {"f": 329.8, "ph": 15.4, "src": "LoudspeakerLab (spec sheet)"},
      {"f": 400, "ph": 22.0, "src": "LoudspeakerLab (spec sheet)"},
      {"f": 500, "ph": 29.9, "src": "LoudspeakerLab (spec sheet)"},
      {"f": 600, "ph": 35.1, "src": "LoudspeakerLab (spec sheet)"},
      {"f": 700, "ph": 38.4, "src": "LoudspeakerLab (spec sheet)"},
      {"f": 774, "ph": 39.1, "src": "LoudspeakerLab (spec sheet)"},
      {"f": 900, "ph": 37.5, "src": "LoudspeakerLab (spec sheet)"},
      {"f": 1000, "ph": 34.5, "src": "LoudspeakerLab (spec sheet)"},
      {"f": 1147, "ph": 25.9, "src": "LoudspeakerLab (spec sheet)"},
      {"f": 1223, "ph": 21.5, "src": "LoudspeakerLab (spec sheet)"},
      {"f": 1365, "ph": 14.1, "src": "LoudspeakerLab (spec sheet)"},
      {"f": 1550, "ph": 2.2, "src": "LoudspeakerLab (spec sheet)"},
      {"f": 1759, "ph": -7.6, "src": "LoudspeakerLab (spec sheet)"},
      {"f": 2000, "ph": -14.2, "src": "LoudspeakerLab (spec sheet)"},
      {"f": 2307, "ph": -17.5, "src": "LoudspeakerLab (spec sheet)"},
      {"f": 2619, "ph": -18.6, "src": "LoudspeakerLab (spec sheet)"},
      {"f": 2866, "ph": -20.1, "src": "LoudspeakerLab (spec sheet)"},
      {"f": 3000, "ph": -21.4, "src": "LoudspeakerLab (spec sheet)"},
      {"f": 3314, "ph": -26.1, "src": "LoudspeakerLab (spec sheet)"},
      {"f": 3626, "ph": -29.3, "src": "LoudspeakerLab (spec sheet)"},
      {"f": 3793, "ph": -28.7, "src": "LoudspeakerLab (spec sheet)"},
      {"f": 4000, "ph": -23.4, "src": "LoudspeakerLab (spec sheet)"},
      {"f": 4345, "ph": -10.9, "src": "LoudspeakerLab (spec sheet)"},
      {"f": 4670, "ph": 0.3, "src": "LoudspeakerLab (spec sheet)"},
      {"f": 5000, "ph": 6.2, "src": "LoudspeakerLab (spec sheet)"},
      {"f": 5497, "ph": 10.4, "src": "LoudspeakerLab (spec sheet)"},
      {"f": 6353, "ph": 12.5, "src": "LoudspeakerLab (spec sheet)"},
      {"f": 6953, "ph": 12.1, "src": "LoudspeakerLab (spec sheet)"},
      {"f": 8000, "ph": 9.5, "src": "LoudspeakerLab (spec sheet)"},
      {"f": 10000, "ph": 6.8, "src": "LoudspeakerLab (spec sheet)"},
      {"f": 14077, "ph": 5.4, "src": "LoudspeakerLab (spec sheet)"},
      {"f": 20000, "ph": 4.9, "src": "LoudspeakerLab (spec sheet)"}
    ]
  },
  "spacing": 40,
  "bounds": "flush",
  "vconcat": [
    {
      "width": 1804,
      "height": 455,
      "data": {"name": "mag"},
      "mark": {"type": "line"},
      "encoding": {
        "x": {
          "field": "f",
          "type": "quantitative",
          "scale": {"type": "log", "domain": [20, 20000], "nice": false},
          "axis": {
            "title": null,
            "labels": false,
            "values": [20, 30, 40, 50, 60, 70, 80, 90, 100, 200, 300, 400, 500, 600, 700, 800, 900, 1000, 2000, 3000, 4000, 5000, 6000, 7000, 8000, 9000, 10000, 20000],
            "tickSize": {"condition": {"test": "datum.value == 100 || datum.value == 1000 || datum.value == 10000", "value": 7.3}, "value": 4.2},
            "tickWidth": {"condition": {"test": "datum.value == 100 || datum.value == 1000 || datum.value == 10000", "value": 1.67}, "value": 1.25}
          }
        },
        "y": {
          "field": "mag",
          "type": "quantitative",
          "scale": {"domain": [0, 35], "nice": false},
          "axis": {"title": "Magnitude (ohm)", "values": [0, 5, 10, 15, 20, 25, 30, 35], "titlePadding": 16}
        },
        "color": {
          "field": "src",
          "type": "nominal",
          "scale": {
            "domain": ["Klippel image extraction", "VituixCAD", "LoudspeakerLab", "LoudspeakerLab (spec sheet)"],
            "range": ["#111111", "#1f77b4", "#2ca02c", "#d62728"]
          },
          "legend": {
            "title": null,
            "orient": "top-right",
            "offset": 10,
            "fillColor": "white",
            "strokeColor": "#cccccc",
            "cornerRadius": 5,
            "padding": 8,
            "symbolType": "M-2,0H2",
            "symbolSize": 529,
            "symbolStrokeWidth": 3.1,
            "symbolOffset": 8,
            "labelOffset": 29,
            "rowPadding": 8.7,
            "labelFont": "DejaVu Sans",
            "labelFontSize": 21.1,
            "labelColor": "black",
            "labelLimit": 500,
            "encode": {
              "legend": {"update": {"strokeWidth": {"value": 1.67}}},
              "symbols": {"update": {"strokeWidth": {"signal": "datum.value === 'Klippel image extraction' ? 4.6 : 3.1"}}}
            }
          }
        },
        "strokeWidth": {"condition": {"test": "datum.src === 'Klippel image extraction'", "value": 4.6}, "value": 3.1}
      }
    },
    {
      "width": 1804,
      "height": 455,
      "data": {"name": "phase"},
      "title": {
        "text": "Klippel impedance/phase are digitized from the supplied PNG, so they are lower precision than a text export.",
        "orient": "bottom",
        "anchor": "start",
        "frame": "group",
        "dx": -104,
        "offset": 48,
        "font": "DejaVu Sans",
        "fontSize": 21.1,
        "fontWeight": "normal",
        "color": "black"
      },
      "mark": {"type": "line"},
      "encoding": {
        "x": {
          "field": "f",
          "type": "quantitative",
          "scale": {"type": "log", "domain": [20, 20000], "nice": false},
          "axis": {
            "title": "Frequency (Hz)",
            "titlePadding": 14,
            "labelPadding": 8,
            "values": [20, 30, 40, 50, 60, 70, 80, 90, 100, 200, 300, 400, 500, 600, 700, 800, 900, 1000, 2000, 3000, 4000, 5000, 6000, 7000, 8000, 9000, 10000, 20000],
            "labelExpr": "datum.value == 100 ? '10²' : datum.value == 1000 ? '10³' : datum.value == 10000 ? '10⁴' : ''",
            "labelOverlap": false,
            "labelFlush": false,
            "tickSize": {"condition": {"test": "datum.value == 100 || datum.value == 1000 || datum.value == 10000", "value": 7.3}, "value": 4.2},
            "tickWidth": {"condition": {"test": "datum.value == 100 || datum.value == 1000 || datum.value == 10000", "value": 1.67}, "value": 1.25}
          }
        },
        "y": {
          "field": "ph",
          "type": "quantitative",
          "scale": {"domain": [-90, 90], "nice": false},
          "axis": {"title": "Phase (deg)", "values": [-80, -60, -40, -20, 0, 20, 40, 60, 80], "titlePadding": 16}
        },
        "color": {
          "field": "src",
          "type": "nominal",
          "scale": {
            "domain": ["Klippel image extraction", "VituixCAD", "LoudspeakerLab", "LoudspeakerLab (spec sheet)"],
            "range": ["#111111", "#1f77b4", "#2ca02c", "#d62728"]
          },
          "legend": null
        },
        "strokeWidth": {"condition": {"test": "datum.src === 'Klippel image extraction'", "value": 4.6}, "value": 3.1}
      }
    }
  ]
}
